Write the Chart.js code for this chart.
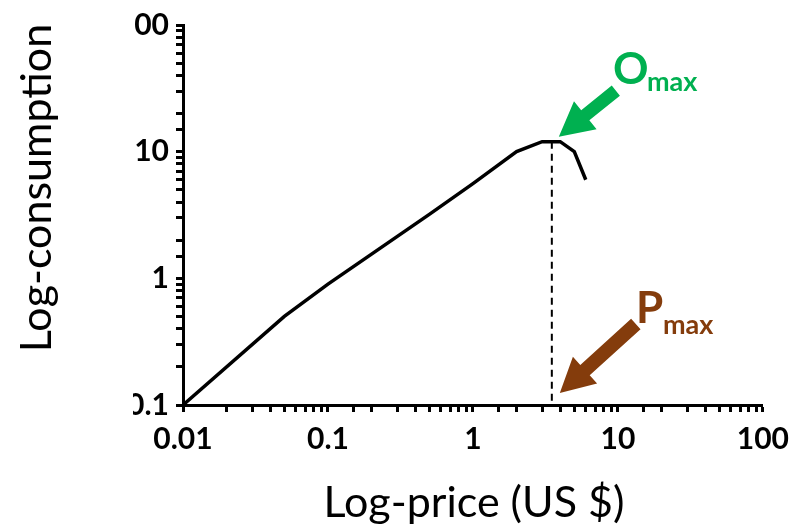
<!DOCTYPE html>
<html>
<head>
<meta charset="utf-8">
<script src="https://cdn.jsdelivr.net/npm/chart.js@4.4.1/dist/chart.umd.min.js"></script>
<style>
  html, body { margin: 0; padding: 0; background: #fff; }
  #wrap { width: 798px; height: 531px; }
</style>
</head>
<body>
<div id="wrap"><canvas id="chart"></canvas></div>
<script>
// demand curve
const prices      = [0.01, 0.05, 0.1, 0.5, 1, 2, 3, 4, 5, 6];
const consumption = [0.1, 0.5, 0.9, 3.2, 5.6, 10, 12, 12, 10, 6];

// Pmax drop line
const pmaxPrice = [3.5, 3.5];
const pmaxLevel = [12, 0.1];

const xTickValues = [0.01, 0.1, 1, 10, 100];
const xTickLabels = ['0.01', '0.1', '1', '10', '100'];
const yTickValues = [0.1, 1, 10, 100];
const yTickLabels = ['0.1', '1', '10', '100'];

const GREEN = '#00b050';
const BROWN = '#843c0c';

function labelFor(values, labels) {
  return function(v) {
    const i = values.findIndex(t => Math.abs(t - v) / t < 1e-6);
    return i >= 0 ? labels[i] : '';
  };
}

function drawArrow(ctx, x0, y0, x1, y1, color, shaftW, headLen, headHalf) {
  const ang = Math.atan2(y1 - y0, x1 - x0);
  const len = Math.hypot(x1 - x0, y1 - y0);
  ctx.save();
  ctx.translate(x0, y0);
  ctx.rotate(ang);
  ctx.fillStyle = color;
  ctx.beginPath();
  ctx.moveTo(0, -shaftW / 2);
  ctx.lineTo(len - headLen, -shaftW / 2);
  ctx.lineTo(len - headLen, -headHalf);
  ctx.lineTo(len, 0);
  ctx.lineTo(len - headLen, headHalf);
  ctx.lineTo(len - headLen, shaftW / 2);
  ctx.lineTo(0, shaftW / 2);
  ctx.closePath();
  ctx.fill();
  ctx.restore();
}

const extras = {
  id: 'extras',
  afterDraw(chart) {
    const ctx = chart.ctx;
    const xs = chart.scales.x, ys = chart.scales.y;

    // original picture is cropped on the left of the y tick labels
    ctx.save();
    ctx.fillStyle = '#fff';
    ctx.fillRect(95, 0, 38, 420);
    ctx.restore();

    ctx.save();
    ctx.fillStyle = '#000';
    ctx.font = '43px Lato';
    ctx.textAlign = 'center';
    ctx.textBaseline = 'middle';
    ctx.fillText('Log-price (US $)', 474, 503);
    ctx.translate(37, 188);
    ctx.rotate(-Math.PI / 2);
    ctx.fillText('Log-consumption', 0, 0);
    ctx.restore();

    const px = xs.getPixelForValue(pmaxPrice[0]);
    const peakY = ys.getPixelForValue(pmaxLevel[0]);
    const baseY = ys.getPixelForValue(pmaxLevel[1]);

    drawArrow(ctx, px + 64, peakY - 51, px + 7, peakY - 5, GREEN, 13, 34, 18);
    drawArrow(ctx, px + 84, baseY - 81, px + 8, baseY - 12, BROWN, 14, 34, 18);

    ctx.save();
    ctx.textAlign = 'left';
    ctx.textBaseline = 'alphabetic';
    ctx.fillStyle = GREEN;
    ctx.font = 'bold 44px Lato';
    ctx.fillText('O', 613, 84);
    ctx.font = 'bold 27px Lato';
    ctx.fillText('max', 647, 91);
    ctx.fillStyle = BROWN;
    ctx.font = 'bold 44px Lato';
    ctx.fillText('P', 636, 323);
    ctx.font = 'bold 27px Lato';
    ctx.fillText('max', 663, 334);
    ctx.restore();
  }
};

const tickFont = { family: 'Lato', weight: 'bold', size: 30 };

new Chart(document.getElementById('chart'), {
  type: 'line',
  data: {
    datasets: [
      {
        data: prices.map((p, i) => ({ x: p, y: consumption[i] })),
        borderColor: '#000',
        borderWidth: 3.5,
        pointRadius: 0,
        tension: 0,
      },
      {
        data: pmaxPrice.map((p, i) => ({ x: p, y: pmaxLevel[i] })),
        borderColor: '#000',
        borderWidth: 2,
        borderDash: [7, 5],
        pointRadius: 0,
      },
    ],
  },
  options: {
    responsive: true,
    maintainAspectRatio: false,
    animation: false,
    layout: { padding: { top: 20, right: 35, left: 0, bottom: 0 } },
    plugins: { legend: { display: false }, tooltip: { enabled: false } },
    scales: {
      x: {
        type: 'logarithmic',
        min: 0.01,
        max: 100,
        border: { color: '#000', width: 3 },
        grid: { drawOnChartArea: false, tickLength: 7, tickWidth: 3, tickColor: '#000' },
        ticks: {
          autoSkip: false, maxRotation: 0, padding: 9, color: '#000',
          font: tickFont, callback: labelFor(xTickValues, xTickLabels),
        },
        afterFit: s => { s.height = 126; },
      },
      y: {
        type: 'logarithmic',
        min: 0.1,
        max: 100,
        border: { color: '#000', width: 3 },
        grid: { drawOnChartArea: false, tickLength: 7, tickWidth: 3, tickColor: '#000' },
        ticks: {
          autoSkip: false, padding: 7, color: '#000',
          font: tickFont, callback: labelFor(yTickValues, yTickLabels),
        },
        afterFit: s => { s.width = 183; },
      },
    },
  },
  plugins: [extras],
});
</script>
</body>
</html>
